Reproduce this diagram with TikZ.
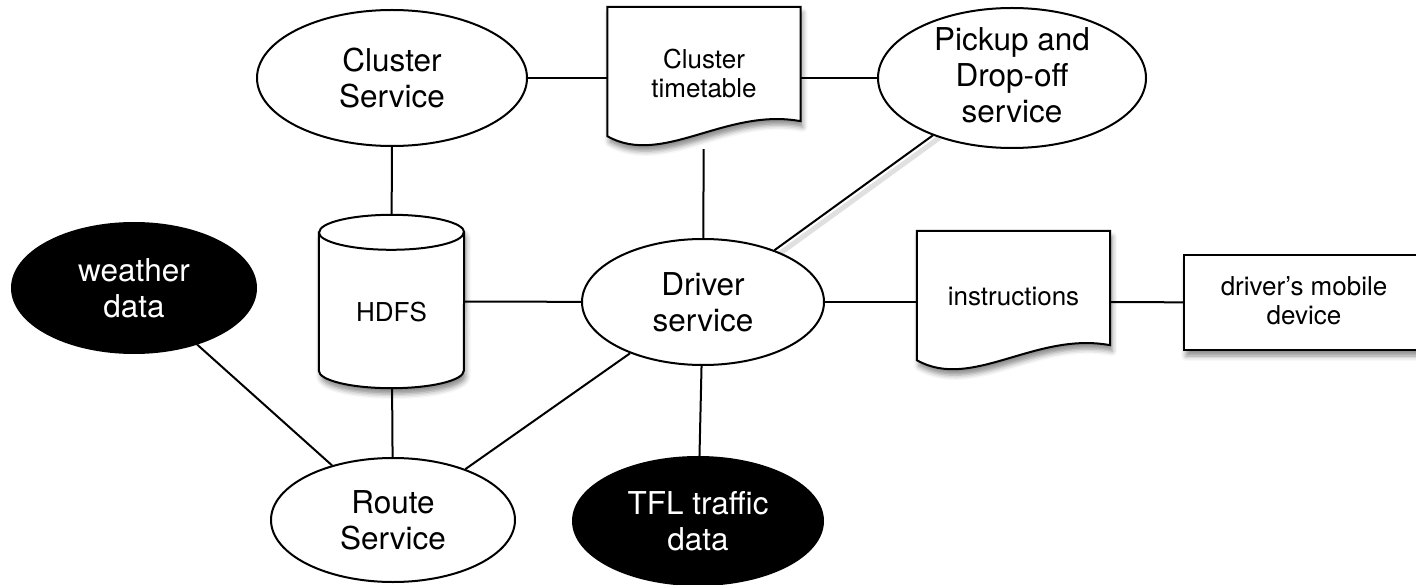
\documentclass[tikz,border=0pt]{standalone}
\usepackage{fontspec}
\setmainfont{TeX Gyre Heros}
\usetikzlibrary{shapes.geometric,backgrounds,shadows.blur}
\pgfdeclarelayer{shapes}
\pgfsetlayers{background,shapes,main}

\tikzset{
  big/.style={font=\fontsize{31.5}{36}\selectfont, align=center, inner sep=0pt},
  small/.style={font=\fontsize{26}{29}\selectfont, align=center, inner sep=0pt},
  ell/.style={ellipse, draw=black, line width=2pt, fill=white, inner sep=0pt},
  dark/.style={ellipse, draw=black, line width=2pt, fill=black, inner sep=0pt},
  frame/.style={rectangle, draw=none, inner sep=0pt},
  shaded/.style={draw=black, line width=2pt, fill=white, line join=miter,
    blur shadow={shadow xshift=2pt, shadow yshift=-6pt, shadow blur radius=5pt, shadow opacity=45}},
  link/.style={draw=black, line width=2pt},
  linkshade/.style={draw=black!35, line width=5pt, opacity=0.35},
}

% sheet with a wavy lower edge, drawn round a frame node
\newcommand\wavedoc[1]{%
  \path[shaded] (#1.north west) -- (#1.north east) -- ([yshift=28pt]#1.south east)
    .. controls ([xshift=-75pt,yshift=42pt]#1.south east) and ([xshift=55pt,yshift=-18pt]#1.south west)
    .. ([yshift=13pt]#1.south west) -- cycle;}

\begin{document}
\begin{tikzpicture}[x=1pt, y=-1pt]
\useasboundingbox (0,0) rectangle (1416,585);

% services and data sources
\node[ell, minimum width=270pt, minimum height=136pt,
      label={[big]center:Cluster\\Service}] (cs) at (392,78) {};
\node[ell, minimum width=268pt, minimum height=140pt,
      label={[big, yshift=3pt]center:Pickup and\\Drop-off\\service}] (pu) at (1012,78) {};
\node[dark, minimum width=244pt, minimum height=130pt,
      label={[big, text=white]center:weather\\data}] (we) at (134,288) {};
\node[ell, minimum width=242pt, minimum height=126pt,
      label={[big]center:Driver\\service}] (dr) at (703,302) {};
\node[ell, minimum width=244pt, minimum height=124pt,
      label={[big]center:Route\\Service}] (rt) at (393,520) {};
\node[dark, minimum width=250pt, minimum height=128pt,
      label={[big, text=white]center:TFL traffic\\data}] (tf) at (698,521) {};

% stores, documents and device (the device box runs off the right edge)
\node[frame, minimum width=145pt, minimum height=173pt,
      label={[small, yshift=-11pt]center:HDFS}] (hd) at (391.5,301.5) {};
\node[frame, minimum width=193pt, minimum height=142pt,
      label={[small, yshift=5pt]center:Cluster\\timetable}] (tt) at (704,78) {};
\node[frame, minimum width=193pt, minimum height=142pt,
      label={[small, yshift=5pt]center:instructions}] (ins) at (1013.5,302) {};
\node[frame, shaded, minimum width=260pt, minimum height=95pt,
      label={[small, xshift=-10pt, yshift=2pt]center:driver’s mobile\\device}] (mob) at (1314,302.5) {};

\begin{pgfonlayer}{shapes}
  % HDFS cylinder
  \path[shaded] ([yshift=-17.5pt]hd.north west) -- ([yshift=17.5pt]hd.south west)
    arc[start angle=180, end angle=360, x radius=72.5pt, y radius=17.5pt]
    -- ([yshift=-17.5pt]hd.north east)
    arc[start angle=0, end angle=180, x radius=72.5pt, y radius=17.5pt] -- cycle;
  \draw[line width=2pt] ([yshift=-17.5pt]hd.north west)
    arc[start angle=180, end angle=360, x radius=72.5pt, y radius=17.5pt];
  \wavedoc{tt}
  \wavedoc{ins}
\end{pgfonlayer}

% connectors
\begin{pgfonlayer}{background}
  \draw[linkshade] ([shift={(3pt,-5pt)}]pu.center) -- ([shift={(3pt,-5pt)}]dr.center);
  \draw[link] (cs) -- (tt);
  \draw[link] (tt) -- (pu);
  \draw[link] (cs) -- (hd);
  \draw[link] (tt) -- (dr);
  \draw[link] (pu) -- (dr);
  \draw[link] (hd) -- (dr);
  \draw[link] (dr) -- (ins);
  \draw[link] (ins) -- (mob);
  \draw[link] (hd) -- (rt);
  \draw[link] (we) -- (rt);
  \draw[link] (rt) -- (dr);
  \draw[link] (dr) -- (tf);
\end{pgfonlayer}
\end{tikzpicture}
\end{document}
